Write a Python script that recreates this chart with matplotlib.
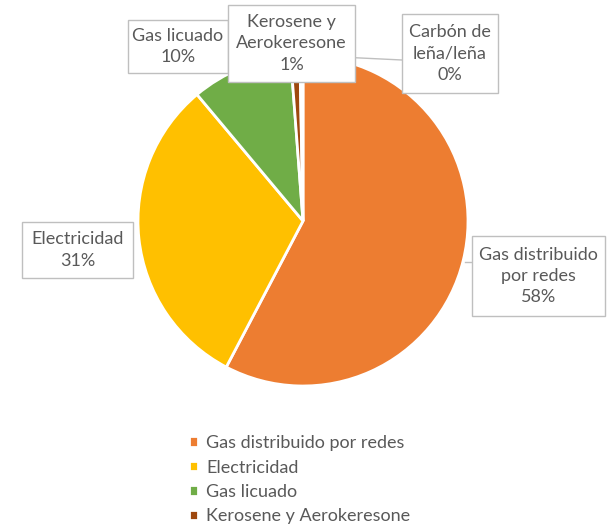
import matplotlib.pyplot as plt
from matplotlib.patches import Rectangle

plt.rcParams['font.family'] = ['Lato', 'DejaVu Sans']

categories = ["Gas distribuido por redes", "Electricidad", "Gas licuado",
              "Kerosene y Aerokeresone", "Carbón de leña/leña"]
values = [57.7, 31.2, 9.9, 0.9, 0.3]
label_texts = ["Gas distribuido\npor redes\n58%", "Electricidad\n31%", "Gas licuado\n10%",
               "Kerosene y\nAerokeresone\n1%", "Carbón de\nleña/leña\n0%"]
colors = ["#ED7D31", "#FFC000", "#70AD47", "#9E480E", "#997300"]

W, H = 615, 529
fig = plt.figure(figsize=(W / 100, H / 100), dpi=100)
ax = fig.add_axes([0, 0, 1, 1])

cx, cy, r = 303, H - 221, 165
wedges, _ = ax.pie(values, colors=colors, startangle=90, counterclock=False,
                   center=(cx, cy), radius=r, frame=True,
                   wedgeprops=dict(edgecolor='white', linewidth=2))
ax.set_xlim(0, W)
ax.set_ylim(0, H)
ax.set_aspect('equal')
ax.axis('off')

txt = "#595959"
edge = "#BFBFBF"

# callout boxes: (x0, y0_top, width, height) in pixels from top-left
boxes = [(472, 236, 133, 80), (22, 222, 111, 56), (128, 20, 100, 53),
         (228, 5, 127, 77), (402, 14, 96, 79)]

# leader lines
ax.plot([340, 402], [H - 57, H - 60], color=edge, lw=1, zorder=3)
ax.plot([465, 472], [H - 262, H - 262], color=edge, lw=1, zorder=3)

for (x0, y0, w, h), t in zip(boxes, label_texts):
    ax.add_patch(Rectangle((x0, H - y0 - h), w, h, facecolor='white',
                           edgecolor=edge, lw=1, zorder=4))
    ax.text(x0 + w / 2, H - y0 - h / 2, t, ha='center', va='center',
            color=txt, fontsize=13, linespacing=1.4, zorder=5)

leg = ax.legend(wedges[:4], categories[:4], loc='upper left',
                bbox_to_anchor=(180 / W, 1 - 426 / H), frameon=False,
                fontsize=13, labelcolor=txt, handlelength=0.5, handleheight=0.5,
                handletextpad=0.45, labelspacing=0.47, borderpad=0)

fig.savefig("out.png", dpi=100)
